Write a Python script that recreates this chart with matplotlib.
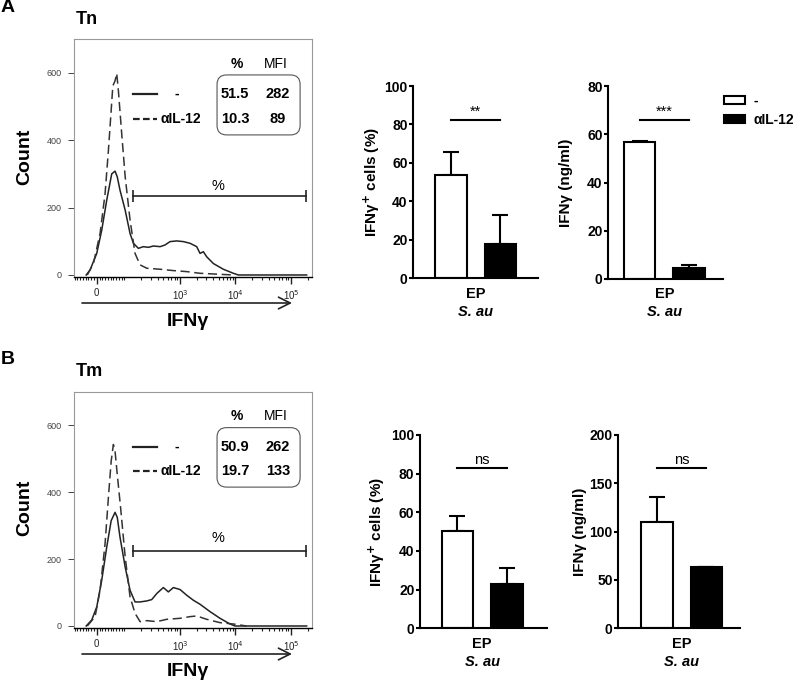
import numpy as np
import matplotlib
matplotlib.use('Agg')
import matplotlib.pyplot as plt
from matplotlib.patches import Patch, FancyBboxPatch
from matplotlib.ticker import FixedLocator, FixedFormatter

plt.rcParams['font.family'] = ['Liberation Sans', 'DejaVu Sans']

# ===== data: flow histograms (IFNg fluorescence, count) =====
tn_solid_x = [-38, -24, 0, 18, 36, 54, 66, 74, 84, 103, 126, 145, 178, 219, 270, 332, 438, 538,
              662, 873, 1153, 1520, 2004, 2301, 2642, 3034, 4000, 6053, 9162, 11298, 192300]
tn_solid_y = [0, 15, 64, 133, 222, 300, 308, 291, 251, 192, 123, 94, 79, 84, 82, 86, 84, 89,
              99, 101, 99, 94, 84, 64, 69, 54, 34, 17, 5, 0, 0]
tn_dash_x = [-34, -12, 12, 30, 42, 52, 58, 66, 72, 78, 90, 103, 126, 155, 191, 252, 438, 760,
             1324, 2301, 4000, 9162]
tn_dash_y = [0, 34, 123, 241, 369, 488, 561, 576, 598, 547, 419, 291, 163, 64, 30, 20, 17, 13,
             10, 5, 3, 0]

tm_solid_x = [-38, -18, 0, 18, 36, 52, 66, 74, 84, 103, 126, 155, 191, 252, 310, 381, 502, 618,
              760, 1005, 1324, 1746, 2301, 3483, 5272, 7980, 9817, 192300]
tm_solid_y = [0, 18, 57, 137, 236, 315, 340, 325, 265, 176, 107, 72, 72, 75, 79, 97, 115, 102,
              115, 109, 92, 77, 65, 43, 23, 6, 0, 0]
tm_dash_x = [-34, -6, 12, 30, 42, 52, 60, 66, 74, 86, 103, 126, 155, 191, 252, 381, 577, 1005,
             1520, 2004, 3034, 5272, 9162, 12106, 15959]
tm_dash_y = [0, 28, 107, 246, 384, 493, 543, 523, 453, 354, 206, 87, 38, 13, 16, 13, 20, 23,
             28, 30, 20, 10, 6, 3, 0]

groups = ['-', 'αIL-12']
tn_pct = ['51.5', '10.3']
tn_mfi = ['282', '89']
tm_pct = ['50.9', '19.7']
tm_mfi = ['262', '133']

# ===== data: bar charts (mean, SD) =====
tn_cells_mean = [53.7, 17.9]
tn_cells_err = [11.8, 15.0]
tn_ifng_mean = [56.9, 4.6]
tn_ifng_err = [0.4, 1.2]
tm_cells_mean = [50.5, 22.8]
tm_cells_err = [7.6, 8.6]
tm_ifng_mean = [110.3, 63.1]
tm_ifng_err = [25.9, 0.7]
sig_tn = ['**', '***']
sig_tm = ['ns', 'ns']

W, H = 800, 685
fig = plt.figure(figsize=(W / 100, H / 100), dpi=100)


def px_axes(l, t, r, b):
    return fig.add_axes([l / W, 1 - b / H, (r - l) / W, (b - t) / H])


def draw_hist(ax, sx, sy, dx, dy, pct, mfi, gate_y, label_y):
    ax.set_xscale('symlog', linthresh=100, linscale=0.45)
    ax.plot(sx, sy, color='#222222', lw=1.1)
    ax.plot(dx, dy, color='#333333', lw=1.1, linestyle=(0, (6, 3)))
    ax.set_xlim(-82, 2.4e5)
    ax.set_ylim(-6, 700)

    # x ticks like a flow cytometry axis
    ax.xaxis.set_major_locator(FixedLocator([0, 1e3, 1e4, 1e5]))
    ax.xaxis.set_major_formatter(FixedFormatter(['0', '10$^3$', '10$^4$', '10$^5$']))
    minors = list(range(-80, 101, 10)) + [k * 10 ** d for d in (2, 3, 4) for k in range(2, 10)] + [2e5]
    ax.xaxis.set_minor_locator(FixedLocator(minors))
    ax.tick_params(axis='x', which='major', length=5, width=1.0, labelsize=7, pad=3, colors='#222222')
    ax.tick_params(axis='x', which='minor', length=2.5, width=0.8, colors='#222222')
    ax.set_yticks([0, 200, 400, 600])
    ax.tick_params(axis='y', length=4, width=0.7, labelsize=6.5, pad=5, colors='#444444')
    for s in ['left', 'top', 'right']:
        ax.spines[s].set_color('#999999')
        ax.spines[s].set_linewidth(0.8)
    ax.spines['bottom'].set_linewidth(1.0)

    # gate
    ax.plot([143, 186600], [gate_y, gate_y], color='#222222', lw=1.2, marker='|', markersize=8, mew=1.2)
    ax.text(4850, label_y, '%', ha='center', va='center', fontsize=10.5)

    # legend
    ax.plot([0.248, 0.349], [0.769, 0.769], transform=ax.transAxes, color='#222222', lw=1.6)
    ax.plot([0.248, 0.349], [0.664, 0.664], transform=ax.transAxes, color='#222222', lw=1.6,
            linestyle=(0, (3, 1.5)))
    ax.text(0.43, 0.769, groups[0], transform=ax.transAxes, ha='center', va='center',
            fontsize=10, fontweight='bold')
    ax.text(0.363, 0.664, groups[1], transform=ax.transAxes, ha='left', va='center',
            fontsize=10, fontweight='bold')

    # table
    box = FancyBboxPatch((0.601, 0.597), 0.349, 0.252, boxstyle='round,pad=0,rounding_size=0.04',
                         transform=ax.transAxes, facecolor='none', edgecolor='#555555', lw=0.8)
    ax.add_patch(box)
    ax.text(0.685, 0.897, '%', transform=ax.transAxes, ha='center', va='center', fontsize=10,
            fontweight='bold')
    ax.text(0.849, 0.897, 'MFI', transform=ax.transAxes, ha='center', va='center', fontsize=10)
    for i, yy in enumerate([0.769, 0.664]):
        ax.text(0.676, yy, pct[i], transform=ax.transAxes, ha='center', va='center',
                fontsize=10.5, fontweight='bold')
        ax.text(0.857, yy, mfi[i], transform=ax.transAxes, ha='center', va='center',
                fontsize=10.5, fontweight='bold')


def draw_bars(ax, means, errs, ymax, yticks, sig, sig_y, ylabel, xlim, label_x):
    pos = [0, 1]
    ax.bar(pos, means, width=0.64, color=['white', 'black'], edgecolor='black', lw=1.5, zorder=2)
    ax.errorbar(pos, means, yerr=[[0, 0], errs], fmt='none', ecolor='black', elinewidth=1.5,
                capsize=6, capthick=1.5, zorder=1)
    ax.plot([0, 1], [sig_y, sig_y], color='black', lw=1.5, clip_on=False)
    ax.annotate(sig, xy=(0.5, sig_y), xytext=(0, 1), textcoords='offset points',
                ha='center', va='bottom', fontsize=10.5)
    ax.set_xlim(*xlim)
    ax.set_ylim(0, ymax)
    ax.set_yticks(yticks)
    ax.set_xticks([])
    for s in ['top', 'right']:
        ax.spines[s].set_visible(False)
    for s in ['left', 'bottom']:
        ax.spines[s].set_linewidth(1.5)
    ax.tick_params(axis='y', length=3, width=1.5, pad=1, labelsize=10)
    for t in ax.get_yticklabels():
        t.set_fontweight('bold')
    ax.set_ylabel(ylabel, fontsize=11, fontweight='bold')
    ax.yaxis.set_label_coords(label_x, 0.5)
    ax.annotate('EP', xy=(0.5, 0), xycoords=('data', 'axes fraction'), xytext=(0, -11),
                textcoords='offset points', ha='center', va='center', fontsize=10.5, fontweight='bold')
    ax.annotate('S. au', xy=(0.5, 0), xycoords=('data', 'axes fraction'), xytext=(0, -24),
                textcoords='offset points', ha='center', va='center', fontsize=10.5,
                fontweight='bold', style='italic')


# ===== Panel A (Tn) =====
ax_h1 = px_axes(74, 39, 312, 277)
draw_hist(ax_h1, tn_solid_x, tn_solid_y, tn_dash_x, tn_dash_y, tn_pct, tn_mfi, 233, 263)
ax_a1 = px_axes(413.3, 86, 538, 278.3)
draw_bars(ax_a1, tn_cells_mean, tn_cells_err, 100, [0, 20, 40, 60, 80, 100], sig_tn[0], 82.3,
          'IFNγ$^{\\mathbf{+}}$ cells (%)', (-0.76, 1.76), -0.25)
ax_a2 = px_axes(608.3, 86, 722.7, 279)
draw_bars(ax_a2, tn_ifng_mean, tn_ifng_err, 80, [0, 20, 40, 60, 80], sig_tn[1], 65.9,
          'IFNγ (ng/ml)', (-0.63, 1.68), -0.31)

# ===== Panel B (Tm) =====
ax_h2 = px_axes(74, 392, 312, 628)
draw_hist(ax_h2, tm_solid_x, tm_solid_y, tm_dash_x, tm_dash_y, tm_pct, tm_mfi, 224, 263)
ax_b1 = px_axes(420, 435, 546.7, 628.3)
draw_bars(ax_b1, tm_cells_mean, tm_cells_err, 100, [0, 20, 40, 60, 80, 100], sig_tm[0], 82.8,
          'IFNγ$^{\\mathbf{+}}$ cells (%)', (-0.76, 1.81), -0.26)
ax_b2 = px_axes(618.3, 435, 740, 628.3)
draw_bars(ax_b2, tm_ifng_mean, tm_ifng_err, 200, [0, 50, 100, 150, 200], sig_tm[1], 165.5,
          'IFNγ (ng/ml)', (-0.78, 1.68), -0.26)

# ===== figure-level text =====
for lab, title, y0 in [('A', 'Tn', 0), ('B', 'Tm', 351)]:
    fig.text(1 / W, 1 - (8 + y0) / H, lab, fontsize=14, fontweight='bold', va='center')
    fig.text(76 / W, 1 - (20 + y0) / H, title, fontsize=13, fontweight='bold', va='center')
    fig.text(25 / W, 1 - (157 + y0) / H, 'Count', fontsize=14, fontweight='bold',
             rotation=90, ha='center', va='center')
    fig.text(188 / W, 1 - (321 + y0) / H, 'IFNγ', fontsize=14, fontweight='bold',
             ha='center', va='center')
    plt.annotate('', xy=(292 / W, 1 - (303 + y0) / H), xytext=(82 / W, 1 - (303 + y0) / H),
                 xycoords='figure fraction', textcoords='figure fraction',
                 arrowprops=dict(arrowstyle='->,head_length=0.7,head_width=0.35', lw=1.2,
                                 color='#222222', mutation_scale=12, shrinkA=0, shrinkB=0))

# legend for the bar charts
handles = [Patch(facecolor='white', edgecolor='black', lw=1.5, label=groups[0]),
           Patch(facecolor='black', edgecolor='black', lw=1.5, label=groups[1])]
leg = fig.legend(handles=handles, loc='upper left', bbox_to_anchor=(724 / W, 1 - 94 / H),
                 frameon=False, borderpad=0, borderaxespad=0, handlelength=1.5, handleheight=0.5,
                 handletextpad=0.6, labelspacing=0.35, prop={'weight': 'bold', 'size': 10})

fig.savefig('out.png', dpi=100)
